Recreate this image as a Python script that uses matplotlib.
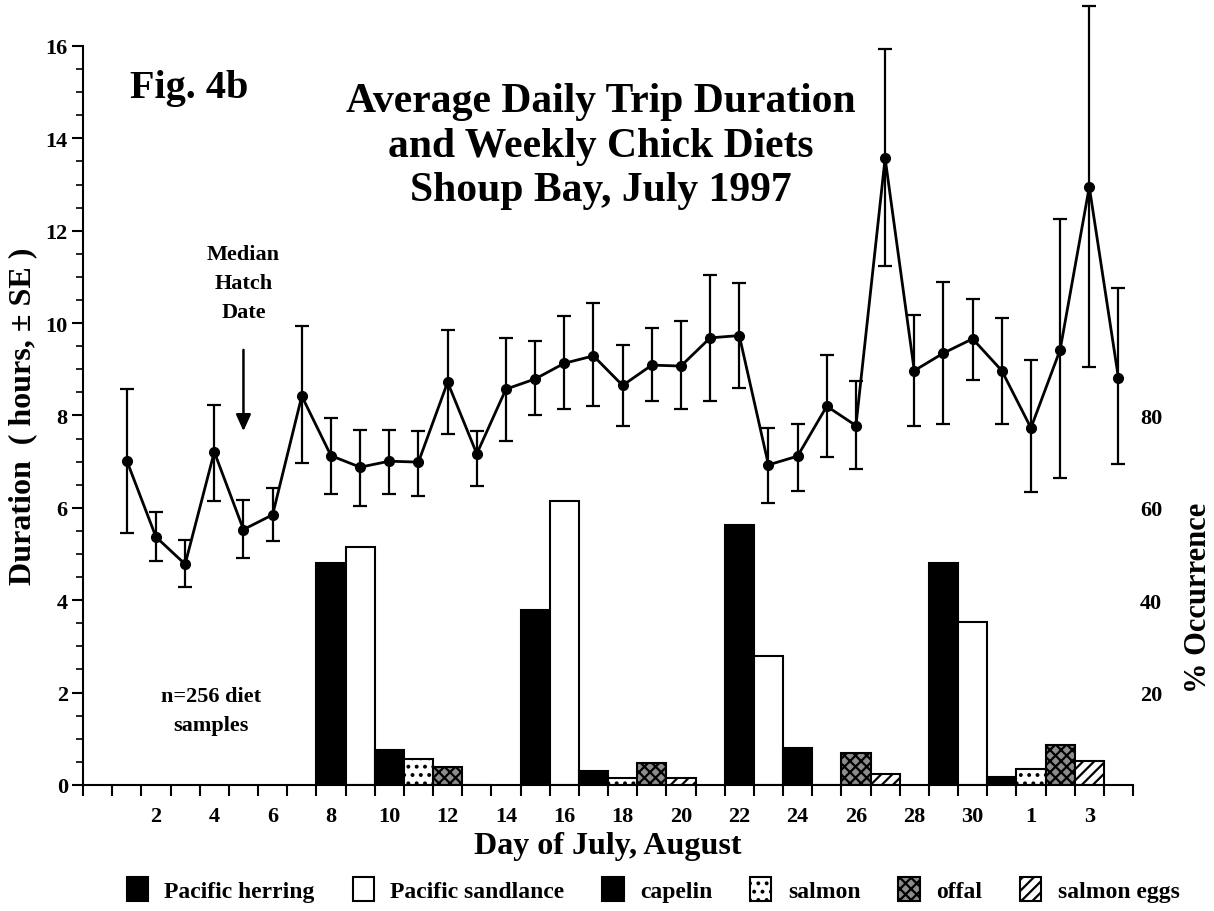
import matplotlib
matplotlib.use("Agg")
import matplotlib.pyplot as plt
import numpy as np
from matplotlib.patches import Patch

plt.rcParams['font.family'] = ['Liberation Serif', 'DejaVu Serif']
plt.rcParams['font.weight'] = 'bold'
plt.rcParams['axes.labelweight'] = 'bold'
plt.rcParams['hatch.linewidth'] = 1.6

# ---- Trip duration data (day index: 1..31 July, 32..35 = Aug 1..4)
days = list(range(1, 36))
duration = [7.02, 5.37, 4.78, 7.21, 5.53, 5.85, 8.42, 7.13, 6.88, 7.01, 6.99, 8.72,
            7.17, 8.57, 8.79, 9.13, 9.29, 8.65, 9.09, 9.07, 9.68, 9.73, 6.93, 7.12,
            8.20, 7.78, 13.57, 8.97, 9.35, 9.66, 8.97, 7.73, 9.42, 12.95, 8.81]
se_upper = [8.57, 5.91, 5.30, 8.23, 6.17, 6.43, 9.94, 7.95, 7.69, 7.69, 7.66, 9.85,
            7.66, 9.68, 9.61, 10.16, 10.43, 9.53, 9.89, 10.04, 11.05, 10.87, 7.73, 7.82,
            9.31, 8.74, 15.93, 10.18, 10.89, 10.52, 10.11, 9.20, 12.25, 16.87, 10.76]
se_lower = [5.46, 4.85, 4.29, 6.15, 4.91, 5.28, 6.97, 6.30, 6.04, 6.30, 6.26, 7.60,
            6.47, 7.45, 8.00, 8.13, 8.20, 7.78, 8.31, 8.13, 8.31, 8.60, 6.10, 6.36,
            7.10, 6.84, 11.23, 7.78, 7.82, 8.77, 7.82, 6.34, 6.65, 9.05, 6.95]

# ---- Weekly diet data (% occurrence)
week_start = [8, 15, 22, 29]
herring   = [48.1, 37.9, 56.3, 48.1]
sandlance = [51.6, 61.5, 27.9, 35.3]
capelin   = [7.6, 3.0, 8.0, 1.7]
salmon    = [5.6, 1.5, 0.0, 3.5]
offal     = [3.9, 4.8, 6.9, 8.7]
eggs      = [0.0, 1.5, 2.4, 5.2]

diet_names = ['Pacific herring', 'Pacific sandlance', 'capelin', 'salmon', 'offal', 'salmon eggs']
diet_series = [herring, sandlance, capelin, salmon, offal, eggs]
diet_styles = [
    dict(facecolor='black', edgecolor='black', hatch=None),
    dict(facecolor='white', edgecolor='black', hatch=None),
    dict(facecolor='black', edgecolor='black', hatch=None),
    dict(facecolor='white', edgecolor='black', hatch='..'),
    dict(facecolor='#8c8c8c', edgecolor='black', hatch='xxx'),
    dict(facecolor='white', edgecolor='black', hatch='///'),
]

x_tick_pos = [2, 4, 6, 8, 10, 12, 14, 16, 18, 20, 22, 24, 26, 28, 30, 32, 34]
x_tick_lab = ['2', '4', '6', '8', '10', '12', '14', '16', '18', '20', '22', '24',
              '26', '28', '30', '1', '3']

fig = plt.figure(figsize=(12.14, 9.12), dpi=100)
ax = fig.add_axes([0.0684, 0.1382, 0.8649, 0.8103])
ax2 = ax.twinx()

# bars on the right (% occurrence) axis
for k, (name, vals, st) in enumerate(zip(diet_names, diet_series, diet_styles)):
    xs = [w + k for w in week_start]
    ax2.bar(xs, vals, width=1.0, align='center', linewidth=1.5, label=name, **st)

ax2.set_ylim(0, 160)
ax2.set_yticks([20, 40, 60, 80])
ax2.tick_params(axis='y', length=0, pad=5, labelsize=16)
for s in ax2.spines.values():
    s.set_visible(False)
ax2.set_ylabel('% Occurrence', fontsize=22)
ax2.yaxis.set_label_coords(1.049, 0.254)

# line with error bars on the left axis
ax.set_zorder(ax2.get_zorder() + 1)
ax.patch.set_visible(False)
yerr = [np.array(duration) - np.array(se_lower), np.array(se_upper) - np.array(duration)]
eb = ax.errorbar(days, duration, yerr=yerr, color='black', lw=2, marker='o', ms=7,
                 ecolor='black', elinewidth=1.6, capsize=5, capthick=1.6)
for art in eb.get_children():
    art.set_clip_on(False)

ax.set_xlim(-0.5, 35.5)
ax.set_ylim(0, 16)
ax.set_yticks(np.arange(0, 17, 2))
ax.set_yticks(np.arange(0, 16.01, 0.5), minor=True)
ax.set_xticks(x_tick_pos)
ax.set_xticklabels(x_tick_lab)
ax.set_xticks(np.arange(-0.5, 35.6, 1), minor=True)
ax.tick_params(axis='x', which='major', length=0, pad=15, labelsize=16)
ax.tick_params(axis='x', which='minor', length=8, width=1.5, direction='out')
ax.tick_params(axis='y', which='major', length=8, width=1.5, pad=3, labelsize=16)
ax.tick_params(axis='y', which='minor', length=5, width=1.2)
ax.spines['top'].set_visible(False)
ax.spines['right'].set_visible(False)
ax.spines['left'].set_linewidth(1.5)
ax.spines['bottom'].set_linewidth(1.5)

ax.set_ylabel('Duration  ( hours, \u00b1 SE )', fontsize=23, labelpad=6)
ax.set_xlabel('Day of July, August', fontsize=23, labelpad=4)

# annotations
ax.text(3.15, 15.1, 'Fig. 4b', fontsize=29, ha='center', va='center')
ax.text(17.25, 13.84, 'Average Daily Trip Duration\nand Weekly Chick Diets\nShoup Bay, July 1997',
        fontsize=30, ha='center', va='center', linespacing=1.22)
ax.text(5, 10.86, 'Median\nHatch\nDate', fontsize=16, ha='center', va='center', linespacing=1.6)
ax.annotate('', xy=(5, 7.6), xytext=(5, 9.48),
            arrowprops=dict(arrowstyle='-|>,head_width=0.45,head_length=1.0',
                            color='black', lw=1.8))
ax.text(3.9, 1.62, 'n=256 diet\nsamples', fontsize=16, ha='center', va='center', linespacing=1.6)

handles = [Patch(label=n, linewidth=1.5, **st) for n, st in zip(diet_names, diet_styles)]
fig.legend(handles=handles, loc='center', bbox_to_anchor=(0.538, 0.024), ncol=6,
           frameon=False, fontsize=17, handlelength=0.9, handleheight=1.2,
           handletextpad=0.7, columnspacing=1.6)

fig.savefig('out.png', dpi=100)
